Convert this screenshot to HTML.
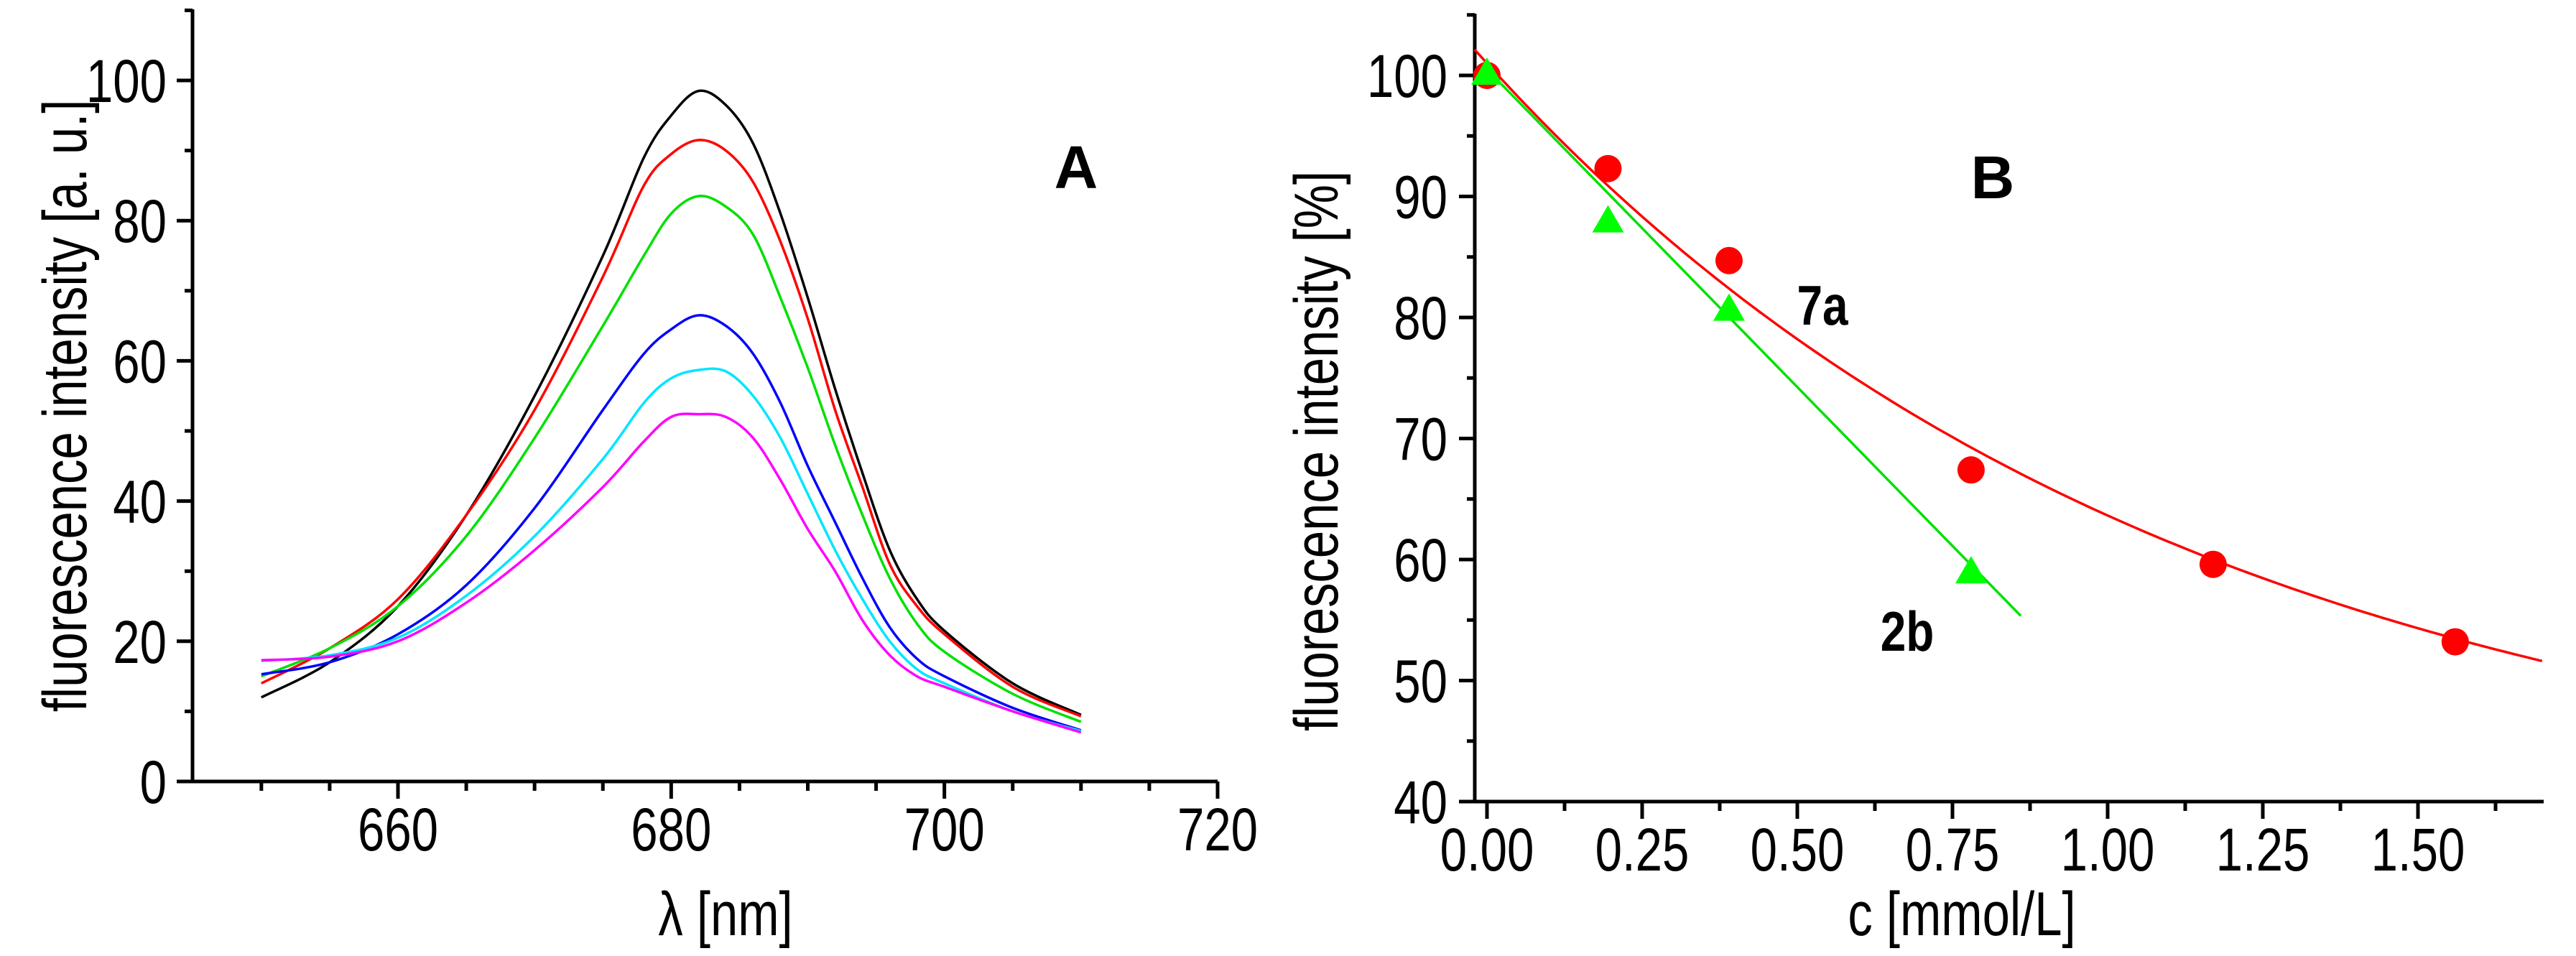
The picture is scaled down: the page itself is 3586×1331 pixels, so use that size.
<!DOCTYPE html>
<html><head><meta charset="utf-8"><style>
html,body{margin:0;padding:0;background:#fff;}
svg{display:block;}
text{font-family:"Liberation Sans",Arial,sans-serif;fill:#000;}
</style></head><body>
<svg id="fig" width="3586" height="1331" viewBox="0 0 3586 1331" xmlns="http://www.w3.org/2000/svg">
<g id="panelA"></g>
<g id="panelB"></g>
</svg>
<script>
// ---- Panel A data ----
const wavelengths = [650,655,660,665,670,675,678,680,682,684,686,688,690,692,694,696,698,700,705,710];
const spec0 = [12,17,25,38,55,75,89,95,98.5,96.5,91,81,69,56,44,33,26,21.5,14,9.5];
const spec1 = [14,19,26,38,53,72,85,89.5,91.5,90,85.5,77,66,53,42,31,25,21,13.5,9.3];
const spec2 = [15,19,25,35,49,65,75,81,83.5,82,78,69,59,48,38,29,22.5,18.5,12.5,8.5];
const spec3 = [15.3,17,21,28,39,53,61,64.5,66.5,65,61,54,45,37,29,22,17.5,15,10.5,7.3];
const spec4 = [17.2,18,20.5,26.5,35,46,54,57.5,58.7,58.5,55,49,41,33,26,20,16,14,10,7.2];
const spec5 = [17.3,17.8,20,25.5,33,42,48.5,52,52.4,52,49,43,36,30,23,18,15,13.5,10,7];
const specColors = ["#000000","#ff0000","#00e000","#0000ff","#00e5ff","#ff00ff"];
const aXTicks = [660,680,700,720];
const aYTicks = [0,20,40,60,80,100];
// ---- Panel B data ----
const conc7a = [0,0.195,0.39,0.78,1.17,1.56];
const int7a = [100,92.3,84.7,67.4,59.6,53.2];
const conc2b = [0,0.195,0.39,0.78];
const int2b = [100,87.8,80.5,58.8];
const fit7a = [37.8,63.2,1.118];    // y = a + b*exp(-c/t)
const fit2b = [100.5,-52.5];        // y = a + b*c
const bXTicks = [0,0.25,0.5,0.75,1.0,1.25,1.5];
const bYTicks = [40,50,60,70,80,90,100];

const NS="http://www.w3.org/2000/svg";
function mk(tag, attrs, parent){const e=document.createElementNS(NS,tag);for(const k in attrs)e.setAttribute(k,attrs[k]);parent.appendChild(e);return e;}
function smooth(pts){
  let d='M'+pts[0][0].toFixed(1)+' '+pts[0][1].toFixed(1);
  for(let i=0;i<pts.length-1;i++){
    const p0=pts[Math.max(0,i-1)],p1=pts[i],p2=pts[i+1],p3=pts[Math.min(pts.length-1,i+2)];
    const c1x=p1[0]+(p2[0]-p0[0])/6,c1y=p1[1]+(p2[1]-p0[1])/6;
    const c2x=p2[0]-(p3[0]-p1[0])/6,c2y=p2[1]-(p3[1]-p1[1])/6;
    d+=` C${c1x.toFixed(1)} ${c1y.toFixed(1)} ${c2x.toFixed(1)} ${c2y.toFixed(1)} ${p2[0].toFixed(1)} ${p2[1].toFixed(1)}`;
  }
  return d;
}
const FS=84, SX=0.8;

// Panel A axes
const xA = v => 554 + (v-660)*(1695-554)/60;
const yA = v => 1088 - v*9.76;
const gA = document.getElementById('panelA');
let ax = mk('path',{d:`M268 13 V1088 H1695`,stroke:'#000','stroke-width':5,fill:'none'},gA);


for(let v=0; v<=110; v+=10){
  const maj = v%20===0;
  const t = mk('line',{x1:268,x2:maj?246:257,y1:yA(v),y2:yA(v),stroke:'#000','stroke-width':5},gA);
  
  
}
aYTicks.forEach(v=>{
  const t = mk('text',{x:0,y:0,'font-size':FS,'text-anchor':'end',transform:`translate(232 ${yA(v)+30}) scale(${SX} 1)`},gA);
  t.textContent=v;
  
  
});
for(let v=650; v<=720; v+=5){
  const maj = v%20===0;
  const t = mk('line',{x1:xA(v),x2:xA(v),y1:1088,y2:maj?1112:1101,stroke:'#000','stroke-width':5},gA);
  
  
}
aXTicks.forEach(v=>{
  const t = mk('text',{x:0,y:0,'font-size':FS,'text-anchor':'middle',transform:`translate(${xA(v)} 1184) scale(${SX} 1)`},gA);
  t.textContent=v;
  
  
});
let t1 = mk('text',{x:0,y:0,'font-size':86,'text-anchor':'middle',transform:`translate(120 565) rotate(-90) scale(${SX} 1)`},gA);
t1.textContent='fluorescence intensity [a. u.]';


let t2 = mk('text',{x:0,y:0,'font-size':86,'text-anchor':'middle',transform:`translate(1010 1302) scale(${SX} 1)`},gA);
t2.textContent='λ [nm]';


let tA = mk('text',{x:1498,y:262,'font-size':84,'font-weight':'bold','text-anchor':'middle'},gA);
tA.textContent='A';


[spec0,spec1,spec2,spec3,spec4,spec5].forEach((s,i)=>{
  const pts = s.map((v,j)=>[xA(wavelengths[j]), yA(v)]);
  const p = mk('path',{d:smooth(pts),stroke:specColors[i],'stroke-width':3.5,fill:'none','stroke-linejoin':'round'},gA);
  
  
});

// Panel B
const xB = v => 2070 + v*864;
const yB = v => 1116 - (v-40)*16.85;
const gB = document.getElementById('panelB');
let bx = mk('path',{d:`M2053 19 V1116 H3541`,stroke:'#000','stroke-width':5,fill:'none'},gB);


for(let v=40; v<=105; v+=5){
  const maj = v%10===0;
  const t = mk('line',{x1:2053,x2:maj?2031:2042,y1:yB(v),y2:yB(v),stroke:'#000','stroke-width':5},gB);
  
  
}
bYTicks.forEach(v=>{
  const t = mk('text',{x:0,y:0,'font-size':FS,'text-anchor':'end',transform:`translate(2015 ${yB(v)+30}) scale(${SX} 1)`},gB);
  t.textContent=v;
  
  
});
for(let k=0; k<=13; k++){
  const v = k*0.125;
  const maj = k%2===0;
  const t = mk('line',{x1:xB(v),x2:xB(v),y1:1116,y2:maj?1140:1129,stroke:'#000','stroke-width':5},gB);
  
  
}
bXTicks.forEach(v=>{
  const t = mk('text',{x:0,y:0,'font-size':FS,'text-anchor':'middle',transform:`translate(${xB(v)} 1212) scale(${SX} 1)`},gB);
  t.textContent=v.toFixed(2);
  
  
});
let t3 = mk('text',{x:0,y:0,'font-size':86,'text-anchor':'middle',transform:`translate(1862 628) rotate(-90) scale(${SX} 1)`},gB);
t3.textContent='fluorescence intensity [%]';


let t4 = mk('text',{x:0,y:0,'font-size':86,'text-anchor':'middle',transform:`translate(2731 1302) scale(${SX} 1)`},gB);
t4.textContent='c [mmol/L]';


let tB = mk('text',{x:2774,y:276,'font-size':84,'font-weight':'bold','text-anchor':'middle'},gB);
tB.textContent='B';


let l7 = mk('text',{x:0,y:0,'font-size':78,'font-weight':'bold','text-anchor':'middle',transform:`translate(2537 452) scale(0.82 1)`},gB);
l7.textContent='7a';


let l2 = mk('text',{x:0,y:0,'font-size':78,'font-weight':'bold','text-anchor':'middle',transform:`translate(2655 906) scale(0.82 1)`},gB);
l2.textContent='2b';


// fit curves
let fd='';
for(let i=0;i<=120;i++){const c=-0.02+i*(1.72/120);const y=fit7a[0]+fit7a[1]*Math.exp(-c/fit7a[2]);fd+=(i?'L':'M')+xB(c).toFixed(1)+' '+yB(y).toFixed(1)+' ';}
let f1 = mk('path',{d:fd,stroke:'#ff0000','stroke-width':3.5,fill:'none'},gB);


const c0=-0.005, c1=0.86;
let f2 = mk('line',{x1:xB(c0),y1:yB(fit2b[0]+fit2b[1]*c0),x2:xB(c1),y2:yB(fit2b[0]+fit2b[1]*c1),stroke:'#00e000','stroke-width':3.5},gB);


conc7a.forEach((c,i)=>{
  const p = mk('circle',{cx:xB(c),cy:yB(int7a[i]),r:19,fill:'#ff0000'},gB);
  
  
});
conc2b.forEach((c,i)=>{
  const x=xB(c), y=yB(int2b[i]);
  const p = mk('polygon',{points:`${x-22},${y+13} ${x+22},${y+13} ${x},${y-25}`,fill:'#00ff00'},gB);
  
  
});
</script>
</body></html>
